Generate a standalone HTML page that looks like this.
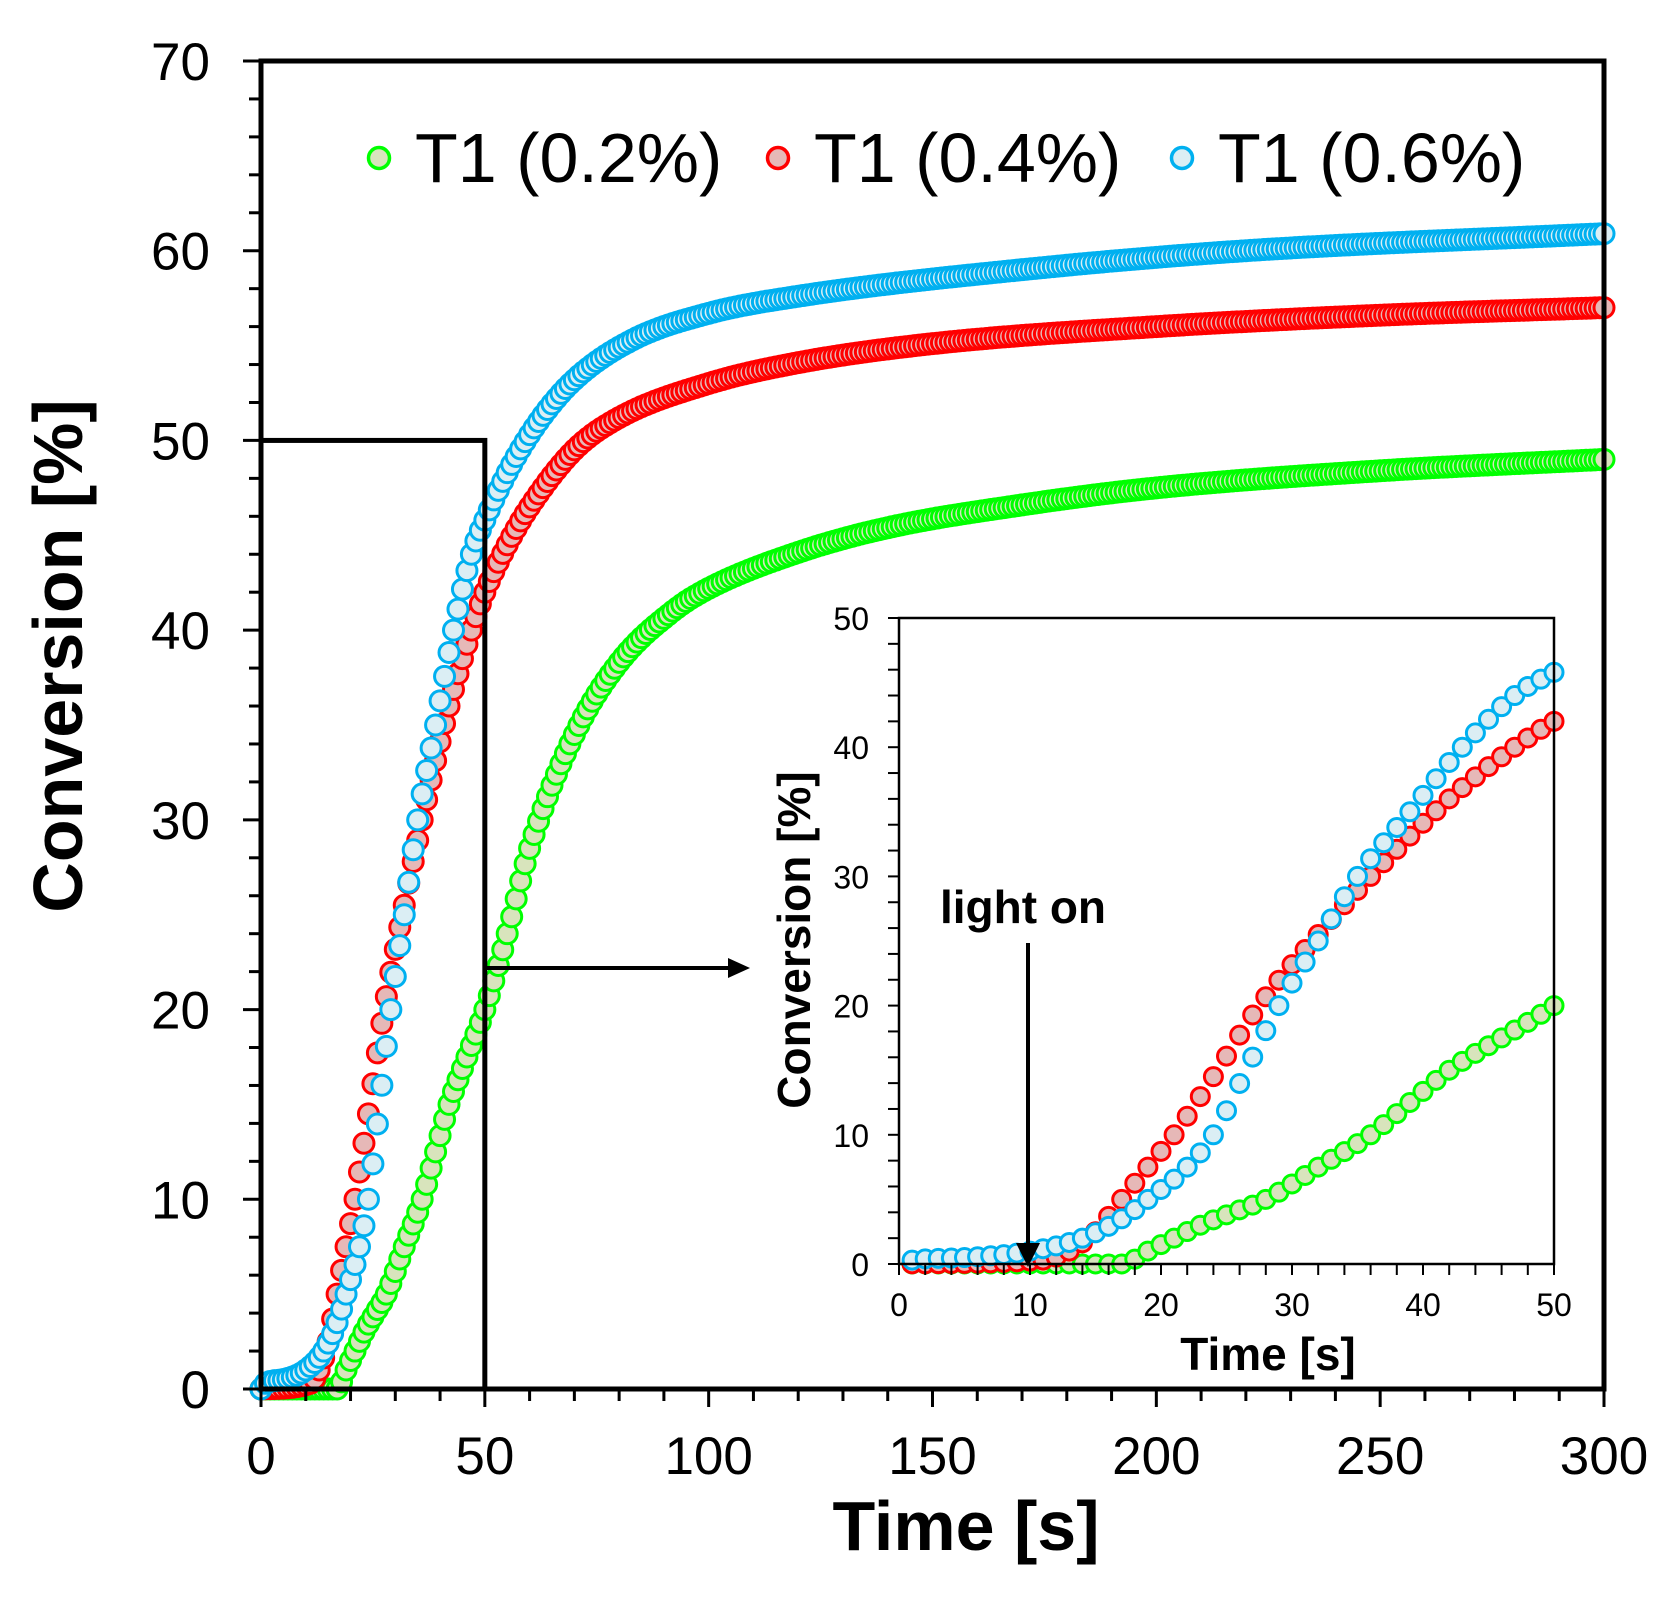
<!DOCTYPE html>
<html><head><meta charset="utf-8"><style>
html,body{margin:0;padding:0;background:#fff;}
svg{display:block;font-family:"Liberation Sans",Arial,sans-serif;}
</style></head><body>
<svg id="s" width="1677" height="1599" xmlns="http://www.w3.org/2000/svg">
<g id="main"></g>
<g id="ins"></g>
</svg>
<script>
const NS="http://www.w3.org/2000/svg";
const S=document.getElementById('s');
function el(t,a,p,txt){const e=document.createElementNS(NS,t);for(const k in a)e.setAttribute(k,a[k]);if(txt!==undefined)e.textContent=txt;(p||S).appendChild(e);return e;}
function mono(K){const n=K.length,xs=K.map(p=>p[0]),ys=K.map(p=>p[1]);const d=[],m=[];
 for(let i=0;i<n-1;i++)d.push((ys[i+1]-ys[i])/(xs[i+1]-xs[i]));
 m[0]=d[0];m[n-1]=d[n-2];
 for(let i=1;i<n-1;i++){m[i]=(d[i-1]*d[i]<=0)?0:(d[i-1]+d[i])/2;}
 for(let i=0;i<n-1;i++){if(d[i]==0){m[i]=0;m[i+1]=0;continue;}const a=m[i]/d[i],b=m[i+1]/d[i],s=a*a+b*b;if(s>9){const t=3/Math.sqrt(s);m[i]=t*a*d[i];m[i+1]=t*b*d[i];}}
 return function(x){if(x<=xs[0])return ys[0];if(x>=xs[n-1])return ys[n-1];let i=0;while(x>xs[i+1])i++;
  const h=xs[i+1]-xs[i],t=(x-xs[i])/h,t2=t*t,t3=t2*t;
  return (2*t3-3*t2+1)*ys[i]+(t3-2*t2+t)*h*m[i]+(-2*t3+3*t2)*ys[i+1]+(t3-t2)*h*m[i+1];};}
const R=mono([[0,0],[11,0.3],[13,1],[15,2.5],[17,5],[19,7.5],[21,10],[24,14.5],[27.5,20],[32,25.5],[36,30],[42,36],[47,40],[50,42],[55,44.5],[60,46.5],[70,49.5],[80,51.2],[100,53],[120,54.1],[150,55.1],[200,56],[250,56.6],[300,57]]);
const B=mono([[0,0],[1,0.3],[5,0.5],[10,1],[14,2],[17,3.5],[19,5],[22,7.5],[24,10],[26.5,15],[29,20],[32,25],[35,30],[39,35],[43,40],[47,44],[50,45.8],[55,48.3],[62,51],[70,53.2],[83,55.3],[100,56.7],[120,57.6],[170,59],[220,60],[300,60.9]]);
const G=mono([[0,0],[17,0],[19,1],[21,2],[23,3],[25.5,4],[28,5],[32,7.5],[36,10],[39,12.5],[42,15],[46,17.5],[50,20],[55,24],[60,28.5],[70,34.5],[80,38.3],[92,41],[100,42.2],[120,44.1],[140,45.4],[170,46.6],[200,47.5],[250,48.4],[300,49]]);
const ser=[[G,'#00ff00','#d8e4bc'],[R,'#ff0000','#e6b8b7'],[B,'#00b0f0','#dbeef4']];
const X0=261,X1=1604,Y0=1389,Y1=61;
const mx=v=>X0+(X1-X0)*v/300, my=v=>Y0-(Y0-Y1)*v/70;
const M=document.getElementById('main');
for(const [f,st,fl] of ser){for(let t=0;t<=300;t+=1){el('circle',{cx:mx(t),cy:my(f(t)),r:10,fill:fl,stroke:st,'stroke-width':3},M);}}
el('rect',{x:X0,y:Y1,width:X1-X0,height:Y0-Y1,fill:'none',stroke:'#000','stroke-width':5},M);
for(let v=0;v<=70;v+=2){const maj=v%10==0;el('line',{x1:X0-(maj?18:12),x2:X0,y1:my(v),y2:my(v),stroke:'#000','stroke-width':3},M);
 if(maj)el('text',{x:210,y:my(v)+19,'text-anchor':'end','font-size':53},M,v);}
for(let v=0;v<=300;v+=10){const maj=v%50==0;el('line',{x1:mx(v),x2:mx(v),y1:Y0,y2:Y0+(maj?18:12),stroke:'#000','stroke-width':3},M);
 if(maj)el('text',{x:mx(v),y:1474,'text-anchor':'middle','font-size':53},M,v);}
el('text',{x:966,y:1550,'text-anchor':'middle','font-size':70,'font-weight':'bold'},M,'Time [s]');
el('text',{x:0,y:0,'text-anchor':'middle','font-size':70,'font-weight':'bold',transform:'translate(82,656) rotate(-90)'},M,'Conversion [%]');
el('rect',{x:X0,y:my(50),width:mx(50)-X0,height:Y0-my(50),fill:'none',stroke:'#000','stroke-width':5},M);
el('line',{x1:mx(50),x2:735,y1:968,y2:968,stroke:'#000','stroke-width':4},M);
el('polygon',{points:'750,968 728,958 728,978',fill:'#000'},M);
const leg=[[379,415,'T1 (0.2%)',0],[778,814,'T1 (0.4%)',1],[1182,1218,'T1 (0.6%)',2]];
for(const [cx,tx,txt,i] of leg){el('circle',{cx:cx,cy:158,r:10.5,fill:ser[i][2],stroke:ser[i][1],'stroke-width':3.5},M);
 el('text',{x:tx,y:182,'font-size':70},M,txt);}
const I=document.getElementById('ins');
const A0=899,A1=1554,B0=1264,B1=618;
const ix=v=>A0+(A1-A0)*v/50, iy=v=>B0-(B0-B1)*v/50;
el('rect',{x:A0,y:B1,width:A1-A0,height:B0-B1,fill:'#fff',stroke:'none'},I);
for(const [f,st,fl] of ser){for(let t=1;t<=50;t+=1){el('circle',{cx:ix(t),cy:iy(f(t)),r:9,fill:fl,stroke:st,'stroke-width':3},I);}}
el('rect',{x:A0,y:B1,width:A1-A0,height:B0-B1,fill:'none',stroke:'#000','stroke-width':2.5},I);
for(let v=0;v<=50;v+=2){const maj=v%10==0;el('line',{x1:A0-11,x2:A0,y1:iy(v),y2:iy(v),stroke:'#000','stroke-width':2},I);
 if(maj)el('text',{x:869,y:iy(v)+12,'text-anchor':'end','font-size':32},I,v);}
for(let v=0;v<=50;v+=2){el('line',{x1:ix(v),x2:ix(v),y1:B0,y2:B0+11,stroke:'#000','stroke-width':2},I);}
for(let v=0;v<=50;v+=10){el('text',{x:ix(v),y:1316,'text-anchor':'middle','font-size':32},I,v);}
el('text',{x:1268,y:1370,'text-anchor':'middle','font-size':46,'font-weight':'bold'},I,'Time [s]');
el('text',{x:0,y:0,'text-anchor':'middle','font-size':46,'font-weight':'bold',transform:'translate(810,940) rotate(-90)'},I,'Conversion [%]');
el('text',{x:1023,y:923,'text-anchor':'middle','font-size':46,'font-weight':'bold'},I,'light on');
el('line',{x1:1028,x2:1028,y1:943,y2:1245,stroke:'#000','stroke-width':4},I);
el('polygon',{points:'1028,1267 1016,1243 1040,1243',fill:'#000'},I);
</script>
</body></html>
